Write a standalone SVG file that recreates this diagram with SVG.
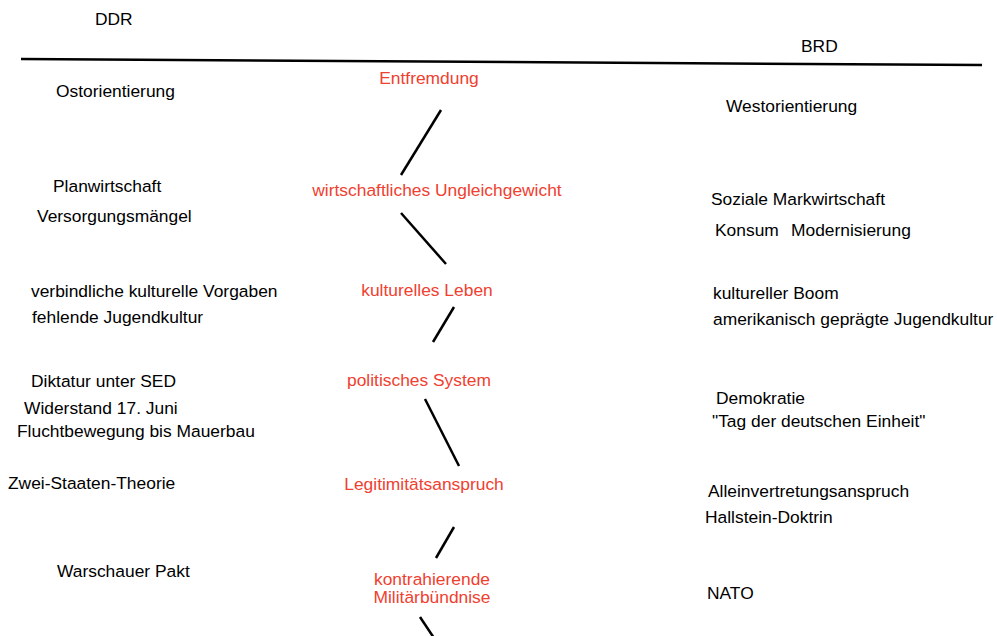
<svg xmlns="http://www.w3.org/2000/svg" width="997" height="636" viewBox="0 0 997 636">
<style>
text{font-family:"Liberation Sans",Arial,sans-serif;font-size:17.4px;fill:#000}
.r{fill:#f0402f}
.c{text-anchor:middle}
.ln{stroke:#000;stroke-width:2.5;fill:none}
</style>
<rect width="997" height="636" fill="#fff"/>
<g id="connectors">
<line class="ln" x1="21" y1="59" x2="982" y2="65"/>
<line class="ln" x1="441" y1="110" x2="401" y2="175"/>
<line class="ln" x1="401" y1="213" x2="446" y2="264"/>
<line class="ln" x1="454" y1="307" x2="433" y2="342"/>
<line class="ln" x1="425" y1="399" x2="459" y2="466"/>
<line class="ln" x1="454" y1="527" x2="436" y2="558"/>
<line class="ln" x1="420" y1="617" x2="434" y2="638"/>
</g>
<g id="ddr"><text x="95" y="25">DDR</text></g>
<g id="brd"><text x="801" y="52">BRD</text></g>
<g id="entfremdung"><text class="r c" x="429" y="84">Entfremdung</text></g>
<g id="ost"><text x="56" y="97">Ostorientierung</text></g>
<g id="west"><text x="726" y="112">Westorientierung</text></g>
<g id="plan"><text x="53" y="192">Planwirtschaft</text><text x="37" y="222">Versorgungsmängel</text></g>
<g id="wirtschaft"><text class="r c" x="437" y="196">wirtschaftliches Ungleichgewicht</text></g>
<g id="markt"><text x="711" y="205">Soziale Markwirtschaft</text><text x="715" y="236">Konsum</text><text x="791" y="236">Modernisierung</text></g>
<g id="kultur-ddr"><text x="31" y="297">verbindliche kulturelle Vorgaben</text><text x="32" y="323">fehlende Jugendkultur</text></g>
<g id="kultur"><text class="r c" x="427" y="296">kulturelles Leben</text></g>
<g id="kultur-brd"><text x="713" y="299">kultureller Boom</text><text x="713" y="325">amerikanisch geprägte Jugendkultur</text></g>
<g id="politik-ddr"><text x="31" y="387">Diktatur unter SED</text><text x="24" y="414">Widerstand 17. Juni</text><text x="17" y="437">Fluchtbewegung bis Mauerbau</text></g>
<g id="politik"><text class="r c" x="419" y="386">politisches System</text></g>
<g id="politik-brd"><text x="716" y="404">Demokratie</text><text x="712" y="427">"Tag der deutschen Einheit"</text></g>
<g id="legit-ddr"><text x="8" y="489">Zwei-Staaten-Theorie</text></g>
<g id="legit"><text class="r c" x="424" y="490">Legitimitätsanspruch</text></g>
<g id="legit-brd"><text x="708" y="497">Alleinvertretungsanspruch</text><text x="705" y="523">Hallstein-Doktrin</text></g>
<g id="militaer-ddr"><text x="57" y="577">Warschauer Pakt</text></g>
<g id="militaer"><text class="r c" x="432" y="585">kontrahierende</text><text class="r c" x="432" y="603">Militärbündnise</text></g>
<g id="militaer-brd"><text x="707" y="599">NATO</text></g>
</svg>
